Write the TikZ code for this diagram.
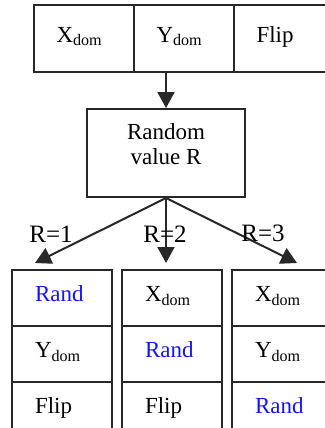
\documentclass[tikz,border=0pt]{standalone}
\usepackage{fontspec}
\setmainfont{Liberation Serif}
\usepackage{tikz}
\usetikzlibrary{arrows.meta,positioning}
\definecolor{randblue}{RGB}{20,20,245}
\definecolor{linegray}{RGB}{40,40,40}
\newcommand{\dom}[1]{#1\textsubscript{dom}}

\begin{document}
\begin{tikzpicture}[x=0.5pt, y=-0.5pt,
          cell/.style={draw=linegray, line width=1pt, outer sep=0pt,
                       minimum width=50pt, text width=27pt, align=left,
                       inner xsep=11.5pt, text height=8pt, text depth=4.4pt,
                       font=\fontsize{11.5}{13}\selectfont},
          topcell/.style={cell, minimum height=33.5pt},
          gene/.style={cell, minimum height=28pt},
          rnd/.style={text=randblue},
          box/.style={draw=linegray, line width=1pt, minimum width=79pt,
                      minimum height=44pt, align=center, text depth=9pt,
                      font=\fontsize{11.5}{12.5}\selectfont},
          arr/.style={-{Triangle[length=8pt, width=8.5pt]}, line width=1pt, linegray},
          lbl/.style={font=\fontsize{12.5}{14}\selectfont, inner sep=0pt}
        ]
          \clip (0,0) rectangle (325,428);
          % parent chromosome
          \node[topcell] (tx) at (83.5,38.5) {\dom{X}};
          \node[topcell, right=0pt of tx] (ty) {\dom{Y}};
          \node[topcell, right=0pt of ty] (tf) {Flip};
          \node[box] (rv) at (166,153) {Random\\value R};
          \draw[arr] (rv.north |- ty.south) -- (rv);
          % three children
          \node[gene, rnd] (a1) at (62,298) {Rand};
          \node[gene, below=0pt of a1] (a2) {\dom{Y}};
          \node[gene, below=0pt of a2] (a3) {Flip};
          \node[gene] (b1) at (172,298) {\dom{X}};
          \node[gene, rnd, below=0pt of b1] (b2) {Rand};
          \node[gene, below=0pt of b2] (b3) {Flip};
          \node[gene] (c1) at (282,298) {\dom{X}};
          \node[gene, below=0pt of c1] (c2) {\dom{Y}};
          \node[gene, rnd, below=0pt of c2] (c3) {Rand};
          \coordinate (ta) at (35,263);
          \coordinate (tb) at (166,263);
          \coordinate (tc) at (297,263);
          \draw[arr] (rv.south) -- (ta);
          \draw[arr] (rv.south) -- (tb);
          \draw[arr] (rv.south) -- (tc);
          \node[lbl] (l1) at (51,234) {R=1};
          \node[lbl] (l2) at (165,234) {R=2};
          \node[lbl] (l3) at (263,233) {R=3};
        \end{tikzpicture}
\end{document}
